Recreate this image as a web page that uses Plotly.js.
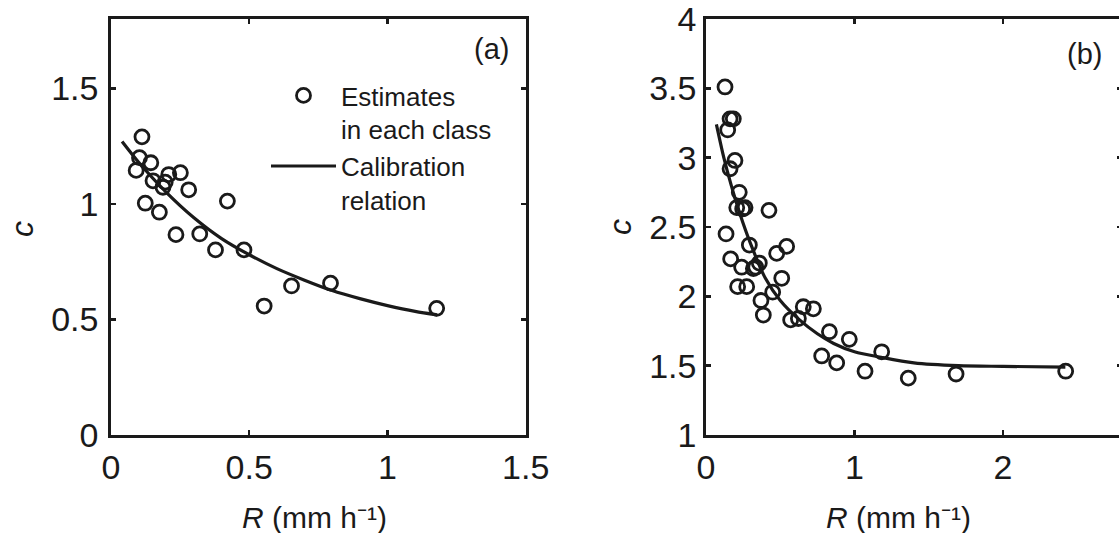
<!DOCTYPE html>
<html>
<head>
<meta charset="utf-8">
<script src="https://cdn.plot.ly/plotly-3.0.1.min.js"></script>
<style>
  html, body { margin: 0; padding: 0; background: #fff; overflow: hidden; }
  #chart { width: 1126px; height: 533px; }
</style>
</head>
<body>
<div id="chart"></div>
<script>
// Panel (a): per-class estimates of c against rain rate R
const rA = [0.112, 0.103, 0.091, 0.144, 0.152, 0.124, 0.175, 0.209, 0.196, 0.188, 0.251,
            0.281, 0.421, 0.235, 0.321, 0.378, 0.481, 0.554, 0.653, 0.794, 1.178];
const cA = [1.29, 1.20, 1.145, 1.178, 1.10, 1.003, 0.964, 1.127, 1.094, 1.072, 1.135,
            1.061, 1.012, 0.867, 0.870, 0.801, 0.801, 0.558, 0.645, 0.657, 0.548];

// Panel (a): calibration relation
const rFitA = [0.04, 0.1, 0.2, 0.3, 0.4, 0.5, 0.6, 0.7, 0.8, 0.9, 1.0, 1.1, 1.18];
const cFitA = [1.27, 1.18, 1.05, 0.94, 0.85, 0.78, 0.72, 0.67, 0.625, 0.59, 0.56, 0.535, 0.52];

// Panel (b): per-class estimates of c against rain rate R
const rB = [0.128, 0.162, 0.184, 0.146, 0.195, 0.162, 0.224, 0.207, 0.263, 0.247, 0.424,
            0.135, 0.292, 0.166, 0.476, 0.543, 0.240, 0.319, 0.359, 0.335, 0.510, 0.213,
            0.274, 0.449, 0.370, 0.386, 0.570, 0.622, 0.655, 0.723, 0.831, 0.779, 0.880,
            0.965, 1.071, 1.183, 1.362, 1.684, 2.422];
const cB = [3.51, 3.28, 3.28, 3.20, 2.98, 2.92, 2.75, 2.64, 2.64, 2.63, 2.62,
            2.45, 2.37, 2.27, 2.31, 2.36, 2.21, 2.20, 2.24, 2.21, 2.13, 2.07,
            2.07, 2.03, 1.97, 1.865, 1.83, 1.84, 1.925, 1.91, 1.745, 1.57, 1.52,
            1.69, 1.46, 1.60, 1.41, 1.44, 1.46];

// Panel (b): calibration relation
const rFitB = [0.07, 0.12, 0.17, 0.23, 0.30, 0.40, 0.50, 0.63, 0.75, 0.86, 1.0, 1.18, 1.4, 1.7, 2.0, 2.42];
const cFitB = [3.24, 3.00, 2.80, 2.59, 2.38, 2.13, 1.97, 1.83, 1.73, 1.66, 1.60, 1.56, 1.52, 1.50, 1.495, 1.49];

// Tick labels
const xTicksA = [0, 0.5, 1, 1.5];
const yTicksA = [0, 0.5, 1, 1.5];
const xTicksB = [0, 1, 2];
const yTicksB = [1, 1.5, 2, 2.5, 3, 3.5, 4];

const legendNames = ['Estimates<br>in each class', 'Calibration<br>relation'];
const panelTags = ['(a)', '(b)'];
const xTitle = '<i>R</i> (mm h\u207B\u00B9)';
const yTitle = '<i>c</i>';

const W = 1126, H = 533;
const INK = '#1a1a1a';
const FONT = 'Liberation Sans, Arial, Helvetica, sans-serif';
const px = v => v / W;
const py = v => 1 - v / H;

const markerStyle = { symbol: 'circle-open', size: 14, color: INK, line: { width: 2.8, color: INK } };
const lineStyle = { color: INK, width: 3.2, shape: 'spline', smoothing: 0.8 };

const traces = [
  { x: rA, y: cA, type: 'scatter', mode: 'markers', marker: markerStyle,
    name: legendNames[0], xaxis: 'x', yaxis: 'y', showlegend: true, cliponaxis: false },
  { x: rFitA, y: cFitA, type: 'scatter', mode: 'lines', line: lineStyle,
    name: legendNames[1], xaxis: 'x', yaxis: 'y', showlegend: true },
  { x: rB, y: cB, type: 'scatter', mode: 'markers', marker: markerStyle,
    name: legendNames[0], xaxis: 'x2', yaxis: 'y2', showlegend: false, cliponaxis: false },
  { x: rFitB, y: cFitB, type: 'scatter', mode: 'lines', line: lineStyle,
    name: legendNames[1], xaxis: 'x2', yaxis: 'y2', showlegend: false }
];

const axisCommon = {
  showline: true, linecolor: INK, linewidth: 2.8,
  mirror: 'ticks', ticks: 'inside', ticklen: 5, tickwidth: 2.5, tickcolor: INK,
  showgrid: false, zeroline: false, automargin: false,
  ticklabeloverflow: 'allow',
  tickfont: { family: FONT, size: 34, color: INK }
};

const yDomain = [py(435), py(19)];

const layout = {
  width: W, height: H,
  margin: { l: 0, r: 0, t: 0, b: 0 },
  paper_bgcolor: '#fff', plot_bgcolor: '#fff',
  font: { family: FONT, color: INK },
  showlegend: true,
  xaxis: Object.assign({}, axisCommon, {
    domain: [px(111), px(525.7)], range: [0, 1.5], tickvals: xTicksA,
    ticklabelstandoff: 0, anchor: 'y'
  }),
  yaxis: Object.assign({}, axisCommon, {
    domain: yDomain, range: [0, 1.8], tickvals: yTicksA,
    ticklabelstandoff: 3, anchor: 'x'
  }),
  xaxis2: Object.assign({}, axisCommon, {
    domain: [px(706), px(1121.8)], range: [0, 2.8], tickvals: xTicksB,
    ticklabelstandoff: 0, anchor: 'y2'
  }),
  yaxis2: Object.assign({}, axisCommon, {
    domain: yDomain, range: [1, 4], tickvals: yTicksB,
    ticklabelstandoff: 0, anchor: 'x2'
  }),
  legend: {
    x: px(266), y: py(72), xanchor: 'left', yanchor: 'top',
    bgcolor: 'rgba(0,0,0,0)', borderwidth: 0,
    font: { family: FONT, size: 26, color: INK },
    itemwidth: 65, valign: 'top', tracegroupgap: 0
  },
  annotations: [
    { text: panelTags[0], xref: 'paper', yref: 'paper', x: px(491.5), y: py(49),
      xanchor: 'center', yanchor: 'middle', showarrow: false, borderpad: 6,
      font: { family: FONT, size: 29, color: INK } },
    { text: panelTags[1], xref: 'paper', yref: 'paper', x: px(1084), y: py(54),
      xanchor: 'center', yanchor: 'middle', showarrow: false, borderpad: 6,
      font: { family: FONT, size: 29, color: INK } },
    { text: xTitle, xref: 'paper', yref: 'paper', x: px(314), y: py(517),
      xanchor: 'center', yanchor: 'middle', showarrow: false, borderpad: 8,
      font: { family: FONT, size: 30, color: INK } },
    { text: xTitle, xref: 'paper', yref: 'paper', x: px(898), y: py(517),
      xanchor: 'center', yanchor: 'middle', showarrow: false, borderpad: 8,
      font: { family: FONT, size: 30, color: INK } },
    { text: yTitle, xref: 'paper', yref: 'paper', x: px(22), y: py(229),
      xanchor: 'center', yanchor: 'middle', showarrow: false, textangle: -90, borderpad: 6,
      font: { family: FONT, size: 32, color: INK } },
    { text: yTitle, xref: 'paper', yref: 'paper', x: px(620), y: py(227),
      xanchor: 'center', yanchor: 'middle', showarrow: false, textangle: -90, borderpad: 6,
      font: { family: FONT, size: 32, color: INK } }
  ]
};

Plotly.newPlot('chart', traces, layout, { staticPlot: true, displayModeBar: false });
</script>
</body>
</html>
